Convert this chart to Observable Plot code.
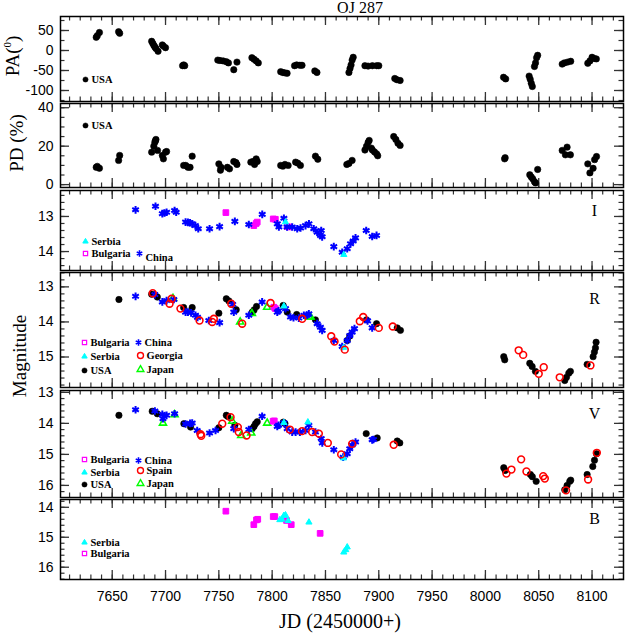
<!DOCTYPE html>
<html><head><meta charset="utf-8">
<script src="https://cdn.jsdelivr.net/npm/d3@7"></script>
<script src="https://cdn.jsdelivr.net/npm/@observablehq/plot@0.6"></script>
<style>
body{margin:0;background:#fff;}
#c{position:relative;width:638px;height:638px;overflow:hidden;font-family:"Liberation Sans",sans-serif;background:#fff;}
.p{position:absolute;left:0;}
.lab{position:absolute;font-family:"Liberation Serif",serif;white-space:nowrap;color:#000;line-height:1;}
</style></head><body><div id="c"></div>
<script>
// ---------- tick labels ----------
const X_MAJOR = [7650,7700,7750,7800,7850,7900,7950,8000,8050,8100];
const PA_TICKS = [50,0,-50,-100];
const PD_TICKS = [0,20,40];
const I_TICKS = [13,14];
const R_TICKS = [13,14,15];
const V_TICKS = [13,14,15,16];
const B_TICKS = [14,15,16];

// ---------- PA (deg) ----------
const PA_USA = [[7635,33],[7636,37],[7638,45],[7656,47],[7657,43],
 [7687,23],[7688,18],[7689,13],[7690,9],[7691,5],[7693,-2],[7697,14],[7698,11],[7700,7],
 [7716,-38],[7717,-36],[7718,-38],
 [7749,-24],[7751,-25],[7754,-26],[7757,-28],[7759,-31],[7764,-48],[7767,-29],
 [7781,-18],[7783,-22],[7785,-26],[7787,-31],
 [7808,-53],[7810,-55],[7812,-56],[7814,-57],
 [7821,-38],[7823,-36],[7826,-37],[7828,-37],
 [7840,-51],[7842,-55],
 [7872,-55],[7873,-45],[7874,-36],[7875,-24],[7876,-17],
 [7887,-38],[7890,-39],[7894,-38],[7898,-38],[7900,-38],
 [7915,-70],[7917,-73],[7920,-75],
 [8017,-67],[8019,-71],
 [8041,-64],[8042,-72],[8043,-82],[8044,-90],
 [8046,-40],[8047,-31],[8048,-18],[8049,-12],
 [8072,-34],[8074,-31],[8077,-29],[8080,-27],
 [8096,-32],[8098,-26],[8100,-17],[8102,-20],[8104,-21]];

// ---------- PD (%) ----------
const PD_USA = [[7635,9],[7636,9.5],[7638,8.5],[7656,12.6],[7657,15.2],
 [7687,16.9],[7689,20],[7690,22],[7691,23.5],[7690.5,22.8],[7692.5,17.8],[7697,15.2],[7698,13.4],[7700,16.9],[7701,17.2],
 [7717,10],[7719,10],[7721,9],[7723,9],[7725,14.8],
 [7750,10.8],[7751.5,7.5],[7752,9],[7758,9],[7760,8.2],[7764,12],[7766,11.5],[7767,10.5],
 [7780,11.7],[7782,12],[7783.5,10.5],[7785,13.4],[7786,12],
 [7808,10],[7810,9.6],[7812,10.5],[7815,10],[7822,11.7],[7824,11.2],[7826.5,10],
 [7840.6,14.8],[7842.8,13.2],
 [7870,10.5],[7872,11],[7875,12.6],
 [7887,18],[7888.5,20],[7890,22],[7891,23],[7893,19],[7894,18],[7896,17],[7898,16],[7899,15],
 [7914,25],[7916,23.5],[7918,21.5],[7920,20.4],
 [8018,13.4],[8018.5,14],
 [8041.6,5.1],[8043,4],[8044.4,3],[8046,1.5],[8047,0.9],[8049,7.9],
 [8072,17.8],[8075,15.5],[8076.6,19.5],[8079.7,15.5],
 [8096,10.8],[8098,6.1],[8101,8.5],[8102.4,13],[8104.2,14.6]];

// ---------- I band ----------
const I_China = [[7671.9,12.81],[7690.6,12.71],[7697,12.92],[7699,12.9],[7701,12.88],[7708.5,12.83],[7710,12.88],
 [7718.8,13.16],[7721,13.17],[7723,13.18],[7725,13.21],[7728,13.26],[7730.7,13.35],
 [7741.3,13.35],[7750.7,13.29],[7765,13.14],[7778.1,13.23],[7790.7,12.94],
 [7804.8,13.21],[7806.3,13.3],[7811,13.05],[7814,13.3],[7818.8,13.3],[7823.5,13.35],[7826.6,13.33],[7831.3,13.26],[7834.5,13.21],
 [7839,13.35],[7842.2,13.45],[7845.3,13.54],[7846.9,13.58],[7846,13.4],
 [7857.8,13.86],[7865.7,14.02],[7870.4,13.92],[7873.5,13.78],[7876,13.7],[7878.2,13.61],[7888.2,13.4],[7893.8,13.57],[7897.9,13.54]];
const I_Bulgaria = [[7756.6,12.89],[7782.8,13.26],[7785,13.2],[7786,13.16],[7801,13.07],[7803,13.08],[7814.1,13.29],[7816,13.3]];
const I_Serbia = [[7812.5,13.16],[7867.2,14.09]];

// ---------- R band ----------
const R_USA = [[7656.3,13.36],[7687,13.21],[7692.3,13.29],[7717,13.59],[7725,13.59],[7750,13.75],[7757,13.34],[7759.4,13.4],[7766.3,13.65],
 [7781.3,13.72],[7783,13.66],[7785.3,13.56],[7810.3,13.53],[7814.1,13.72],[7823,13.79],[7840.6,13.94],[7870.4,14.53],[7872.8,14.4],
 [7888.5,13.94],[7897.9,14.05],[7917.3,14.17],[7920.3,14.24],[8017.2,14.99],[8018.1,15.08],[8041.6,15.18],[8043.8,15.27],[8046.9,15.41],
 [8074.4,15.67],[8076,15.58],[8078.2,15.46],[8079.7,15.41],[8095.4,15.21],[8101,14.99],[8102.2,14.86],[8103.2,14.74],[8103.8,14.58]];
const R_China = [[7671.9,13.27],[7690,13.22],[7697,13.43],[7701,13.39],[7707.8,13.36],[7718.8,13.72],[7721,13.72],[7724,13.74],[7728.1,13.81],
 [7730,13.87],[7740.6,13.96],[7750.7,14.02],[7763,13.5],[7764,13.72],[7778.1,13.81],[7790.6,13.43],[7804.8,13.72],[7806,13.68],[7812.5,13.62],
 [7817.2,13.86],[7820,13.88],[7825,13.89],[7829.7,13.81],[7832.9,13.81],[7834.4,13.77],[7842.2,14.05],[7845.3,14.15],[7846.9,14.24],
 [7857.8,14.53],[7865.7,14.7],[7870.4,14.53],[7872.8,14.39],[7875,14.29],[7877.2,14.19],[7889.5,13.97],[7893.8,14.17]];
const R_Georgia = [[7688,13.18],[7703.8,13.48],[7705.7,13.34],[7714,13.62],[7731.9,13.96],[7743.8,14.0],[7745.3,13.91],[7761.6,13.48],[7771.9,14.05],
 [7798.5,13.46],[7828.2,13.91],[7855.4,14.41],[7858.5,14.56],[7868.1,14.79],[7882.2,13.98],[7885.4,13.86],[7900,14.17],[7913.1,14.13],
 [8031.2,14.81],[8035.4,14.94],[8050,15.48],[8054.7,15.29],[8069.7,15.58],[8098.5,15.24]];
const R_Japan = [[7707,13.33],[7770,14.0],[7781,13.76],[7795.3,13.58],[7834.5,13.86],[7836,13.86]];
const R_Bulgaria = [[7801.6,13.58],[7803,13.62]];
const R_Serbia = [[7811,13.55],[7867,14.73]];

// ---------- V band ----------
const V_USA = [[7656.3,13.74],[7687.5,13.61],[7692.3,13.69],[7717.2,14.01],[7723.5,14.12],[7750,14.14],[7757,13.74],[7758.5,13.78],[7765,14.06],
 [7781.3,14.17],[7783,14.1],[7784.4,14.01],[7786,13.95],[7810.4,13.96],[7812,14.0],[7888.2,14.33],[7898.5,14.47],[7917.3,14.57],[7919.7,14.63],
 [8017.2,15.43],[8018.5,15.52],[8042.2,15.65],[8044,15.72],[8047.6,15.87],[8074.4,16.14],[8076.6,16.0],[8079.1,15.87],[8080,15.83],
 [8095.4,15.65],[8100.7,15.39],[8102.3,15.19],[8104.2,14.98]];
const V_China = [[7671.9,13.56],[7690,13.6],[7697,13.71],[7697.6,13.85],[7701,13.74],[7708.5,13.69],[7718.8,14.02],[7723,14.0],[7725,13.99],
 [7729.7,14.23],[7741.3,14.31],[7746.9,14.23],[7764,14.17],[7778.1,14.2],[7790.6,13.77],[7804.8,14.1],[7806,14.06],[7811,13.98],[7814.1,14.17],
 [7818.8,14.28],[7822,14.28],[7826,14.28],[7831.3,14.23],[7834.4,14.06],[7840.6,14.28],[7846,14.49],[7847,14.63],[7857.8,14.85],[7866.6,15.09],
 [7870.4,14.98],[7872.8,14.82],[7875,14.7],[7878.2,14.6],[7893.8,14.53],[7895,14.52]];
const V_Spain = [[7732.8,14.35],[7733.5,14.4],[7753.2,14.01],[7761,13.8],[7767.8,14.12],[7768.7,14.28],[7776,14.39],[7816.6,14.2],[7828,14.25],
 [7837.5,14.28],[7843.8,14.33],[7852.2,14.63],[7864.7,15.0],[7875,14.66],[7914,14.69],[8019.7,15.62],[8024.4,15.49],[8033.5,15.16],
 [8038.5,15.55],[8054.2,15.7],[8055.7,15.78],[8075.6,16.16],[8096.3,15.81],[8104.5,14.95]];
const V_Japan = [[7697.6,13.99],[7708.5,13.72],[7762.6,13.93],[7771,14.39],[7780.4,14.31],[7795.3,13.99]];
const V_Bulgaria = [[7800.9,13.93],[7802,13.92]];
const V_Serbia = [[7811,13.98],[7833.5,13.96],[7867,15.12]];

// ---------- B band ----------
const B_Bulgaria = [[7756.6,14.13],[7782.8,14.58],[7785.3,14.42],[7786.5,14.4],[7801,14.31],[7802.5,14.31],[7813.5,14.44],[7817.9,14.58],[7845,14.87]];
const B_Serbia = [[7807.2,14.42],[7809,14.4],[7811,14.28],[7812.5,14.26],[7815,14.45],[7834.5,14.5],[7867.2,15.5],[7869,15.42],[7870.4,15.33]];

// ---------- styles ----------
const STY = {
  USA:      {symbol:"circle",   fill:"black",   stroke:"black",   r:3.2, sw:0.6},
  China:    {symbol:"asterisk", fill:"none",    stroke:"#0000ff", r:3.6, sw:2},
  Bulgaria: {symbol:"square",   fill:"#ff00ff", stroke:"#ff00ff", r:3.2, sw:1},
  Serbia:   {symbol:"triangle", fill:"#00ffff", stroke:"#00ffff", r:2.3, sw:1},
  Georgia:  {symbol:"circle",   fill:"none",    stroke:"#ff0000", r:3.4, sw:1.6},
  Spain:    {symbol:"circle",   fill:"none",    stroke:"#ff0000", r:3.4, sw:1.6},
  Japan:    {symbol:"triangle", fill:"none",    stroke:"#00ff00", r:2.6, sw:1.6}
};
const LEG = {
  USA:      {symbol:"circle",   fill:"black",   stroke:"black",   r:2.6, sw:0.5},
  China:    {symbol:"asterisk", fill:"none",    stroke:"#0000ff", r:3.0, sw:1.6},
  Bulgaria: {symbol:"square",   fill:"none",    stroke:"#ff00ff", r:2.4, sw:1.2},
  Serbia:   {symbol:"triangle", fill:"#00ffff", stroke:"#00ffff", r:2.0, sw:1},
  Georgia:  {symbol:"circle",   fill:"none",    stroke:"#ff0000", r:3.0, sw:1.4},
  Spain:    {symbol:"circle",   fill:"none",    stroke:"#ff0000", r:3.0, sw:1.4},
  Japan:    {symbol:"triangle", fill:"none",    stroke:"#00ff00", r:2.5, sw:1.4}
};

const W = 638, ML = 60, MR = 15, PW = W - ML - MR;
const X_DOMAIN = [7601.5, 8129.5];
const X_MINOR = d3.range(7610, 8130, 10);
const TICK = "#333";

function panel(cfg) {
  const H = cfg.bottom - cfg.top;
  const MB = cfg.xAxis ? 60 : 0;
  const marks = [];
  const id = d => d;
  marks.push(Plot.tickX(X_MINOR, {x: id, insetBottom: H - 4.5, stroke: TICK, strokeWidth: 1.2}));
  marks.push(Plot.tickX(X_MAJOR, {x: id, insetBottom: H - 9, stroke: TICK, strokeWidth: 1.3}));
  marks.push(Plot.tickX(X_MINOR, {x: id, insetTop: H - 4.5, stroke: TICK, strokeWidth: 1.2}));
  marks.push(Plot.tickX(X_MAJOR, {x: id, insetTop: H - 9, stroke: TICK, strokeWidth: 1.3}));
  marks.push(Plot.tickY(cfg.yMinor, {y: id, insetRight: PW - 4.5, stroke: TICK, strokeWidth: 1.2}));
  marks.push(Plot.tickY(cfg.yMajor, {y: id, insetRight: PW - 9, stroke: TICK, strokeWidth: 1.3}));
  marks.push(Plot.tickY(cfg.yMinor, {y: id, insetLeft: PW - 4.5, stroke: TICK, strokeWidth: 1.2}));
  marks.push(Plot.tickY(cfg.yMajor, {y: id, insetLeft: PW - 9, stroke: TICK, strokeWidth: 1.3}));
  marks.push(Plot.axisY(cfg.yMajor, {anchor: "left", tickSize: 0, tickPadding: 7, fontSize: 14, label: null, tickFormat: d => String(d)}));
  if (cfg.xAxis) marks.push(Plot.axisX(X_MAJOR, {anchor: "bottom", tickSize: 0, tickPadding: 12, fontSize: 14, label: null, tickFormat: d => String(d)}));
  for (const s of cfg.series) {
    const st = STY[s.obs];
    marks.push(Plot.dot(s.data, {x: d => d[0], y: d => d[1], symbol: st.symbol, r: st.r, fill: st.fill, stroke: st.stroke, strokeWidth: st.sw}));
  }
  for (const L of cfg.legend) {
    const st = LEG[L.obs];
    marks.push(Plot.dot([L.obs], {frameAnchor: "top-left", dx: L.dx, dy: L.dy, symbol: st.symbol, r: st.r, fill: st.fill, stroke: st.stroke, strokeWidth: st.sw}));
    marks.push(Plot.text([L.obs], {frameAnchor: "top-left", text: d => d, dx: L.dx + 6, dy: (L.ty ?? L.dy) + 0.5, lineAnchor: "middle", textAnchor: "start",
      fontFamily: "Liberation Serif", fontWeight: "bold", fontSize: 10.5, fill: "black"}));
  }
  if (cfg.band) {
    marks.push(Plot.text([cfg.band], {frameAnchor: "top-right", text: d => d, dx: -29, dy: cfg.bandDy, lineAnchor: "middle", textAnchor: "middle",
      fontFamily: "Liberation Serif", fontSize: 16, fill: "black"}));
  }
  marks.push(Plot.frame({stroke: "black", strokeWidth: 1.5}));
  const svg = Plot.plot({
    width: W, height: H + MB,
    marginLeft: ML, marginRight: MR, marginTop: 0, marginBottom: MB,
    x: {domain: X_DOMAIN, ...(cfg.xAxis ? {} : {axis: null})},
    y: {domain: cfg.domain, reverse: !!cfg.reverse, axis: null},
    style: {background: "transparent", overflow: "visible", fontFamily: "Liberation Sans", color: "black"},
    marks
  });
  svg.classList.add("p");
  svg.style.top = cfg.top + "px";
  svg.style.position = "absolute";
  svg.style.left = "0px";
  document.getElementById("c").appendChild(svg);
}

panel({top: 16, bottom: 101, domain: [-127.5, 85], yMajor: PA_TICKS, yMinor: d3.range(-125, 86, 25),
  series: [{obs: "USA", data: PA_USA}],
  legend: [{obs: "USA", dx: 25, dy: 63}]});
panel({top: 103, bottom: 187, domain: [-1.5, 42.2], yMajor: PD_TICKS, yMinor: d3.range(0, 42, 5),
  series: [{obs: "USA", data: PD_USA}],
  legend: [{obs: "USA", dx: 25, dy: 22}]});
panel({top: 190, bottom: 270, domain: [12.26, 14.54], reverse: true, yMajor: I_TICKS, yMinor: d3.range(12.4, 14.55, 0.2),
  series: [{obs: "Bulgaria", data: I_Bulgaria}, {obs: "China", data: I_China}, {obs: "Serbia", data: I_Serbia}],
  legend: [{obs: "Serbia", dx: 25, dy: 51}, {obs: "Bulgaria", dx: 25, dy: 63}, {obs: "China", dx: 79, dy: 63, ty: 67}],
  band: "I", bandDy: 20});
panel({top: 272, bottom: 387, domain: [12.59, 15.87], reverse: true, yMajor: R_TICKS, yMinor: d3.range(12.6, 15.9, 0.2),
  series: [{obs: "USA", data: R_USA}, {obs: "Japan", data: R_Japan}, {obs: "Bulgaria", data: R_Bulgaria}, {obs: "China", data: R_China},
           {obs: "Serbia", data: R_Serbia}, {obs: "Georgia", data: R_Georgia}],
  legend: [{obs: "Bulgaria", dx: 24, dy: 70}, {obs: "China", dx: 78, dy: 70}, {obs: "Serbia", dx: 24, dy: 84},
           {obs: "Georgia", dx: 80, dy: 83}, {obs: "USA", dx: 24, dy: 98}, {obs: "Japan", dx: 80, dy: 97}],
  band: "R", bandDy: 26});
panel({top: 390, bottom: 497, domain: [12.94, 16.39], reverse: true, yMajor: V_TICKS, yMinor: d3.range(13, 16.4, 0.2),
  series: [{obs: "USA", data: V_USA}, {obs: "Japan", data: V_Japan}, {obs: "Bulgaria", data: V_Bulgaria}, {obs: "China", data: V_China},
           {obs: "Serbia", data: V_Serbia}, {obs: "Spain", data: V_Spain}],
  legend: [{obs: "Bulgaria", dx: 24, dy: 69}, {obs: "China", dx: 78, dy: 70}, {obs: "Serbia", dx: 24, dy: 82},
           {obs: "Spain", dx: 80, dy: 80}, {obs: "USA", dx: 24, dy: 94}, {obs: "Japan", dx: 80, dy: 93}],
  band: "V", bandDy: 23});
panel({top: 499, bottom: 579, domain: [13.74, 16.41], reverse: true, yMajor: B_TICKS, yMinor: d3.range(13.8, 16.41, 0.2),
  series: [{obs: "Bulgaria", data: B_Bulgaria}, {obs: "Serbia", data: B_Serbia}],
  legend: [{obs: "Serbia", dx: 24, dy: 43}, {obs: "Bulgaria", dx: 24, dy: 54}],
  band: "B", bandDy: 19, xAxis: true});

// ---------- text labels ----------
const c = document.getElementById("c");
function label(text, cx, cy, size, rot, html) {
  const d = document.createElement("div");
  d.className = "lab";
  if (html) d.innerHTML = text; else d.textContent = text;
  d.style.left = cx + "px"; d.style.top = cy + "px";
  d.style.fontSize = size + "px";
  d.style.transform = "translate(-50%,-50%)" + (rot ? " rotate(-90deg)" : "");
  c.appendChild(d);
}
label("OJ 287", 360, 8, 16, false);
label("PA(<sup style='font-size:11px'>0</sup>)", 12, 56, 19, true, true);
label("PD (%)", 16, 143, 19, true);
label("Magnitude", 19, 356, 19, true);
label("JD (2450000+)", 340, 621, 20, false);
</script></body></html>
